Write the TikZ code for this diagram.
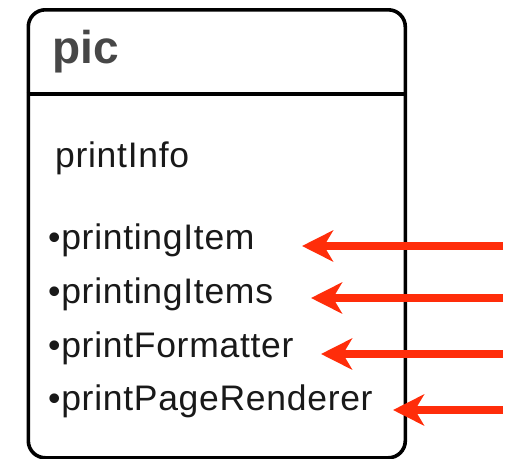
\documentclass[tikz,border=0pt]{standalone}
\usepackage{fontspec}
\setmainfont{Liberation Sans}
\usepackage{xcolor}
\usetikzlibrary{arrows.meta,positioning}
\definecolor{PicGray}{HTML}{474747}
\definecolor{PicRed}{HTML}{FF2D0A}

\begin{document}
\begin{tikzpicture}[
  x=1pt,y=-1pt,
  card/.style={draw,line width=3.6pt,rounded corners=17pt,minimum width=377pt,minimum height=448pt,inner sep=0pt},
  title/.style={anchor=base west,inner sep=0pt,text=PicGray,font=\fontsize{46}{50}\selectfont\bfseries},
  item/.style={anchor=base west,inner sep=0pt,text=black!90,font=\fontsize{35.5}{40}\selectfont\addfontfeature{LetterSpace=2}},
  arr/.style={PicRed,line width=8pt,-{Stealth[length=31pt,width=31pt,inset=9pt]}}
]
  \useasboundingbox (0,0) rectangle (506,458);
  \node[card,anchor=north west] (pic) at (26.5,8) {};
  \draw[line width=3.6pt] (pic.west |- 0,94) -- (pic.east |- 0,94);
  \node[title] (name) at (52,63) {pic};
  \node[item] (info) at (55,167) {printInfo};
  \node[item] (i1) at (48,249) {\textbullet printingItem};
  \node[item] (i2) at (48,303) {\textbullet printingItems};
  \node[item] (i3) at (48,357) {\textbullet printFormatter};
  \node[item] (i4) at (48,410) {\textbullet printPageRenderer};
  \coordinate (s1) at (503,246);
  \coordinate (s2) at (503,298);
  \coordinate (s3) at (503,354);
  \coordinate (s4) at (503,410);
  \coordinate (t1) at (302,246);
  \coordinate (t2) at (311,298);
  \coordinate (t3) at (321,354);
  \coordinate (t4) at (393,410);
  \draw[arr] (s1) -- (t1);
  \draw[arr] (s2) -- (t2);
  \draw[arr] (s3) -- (t3);
  \draw[arr] (s4) -- (t4);
\end{tikzpicture}
\end{document}
